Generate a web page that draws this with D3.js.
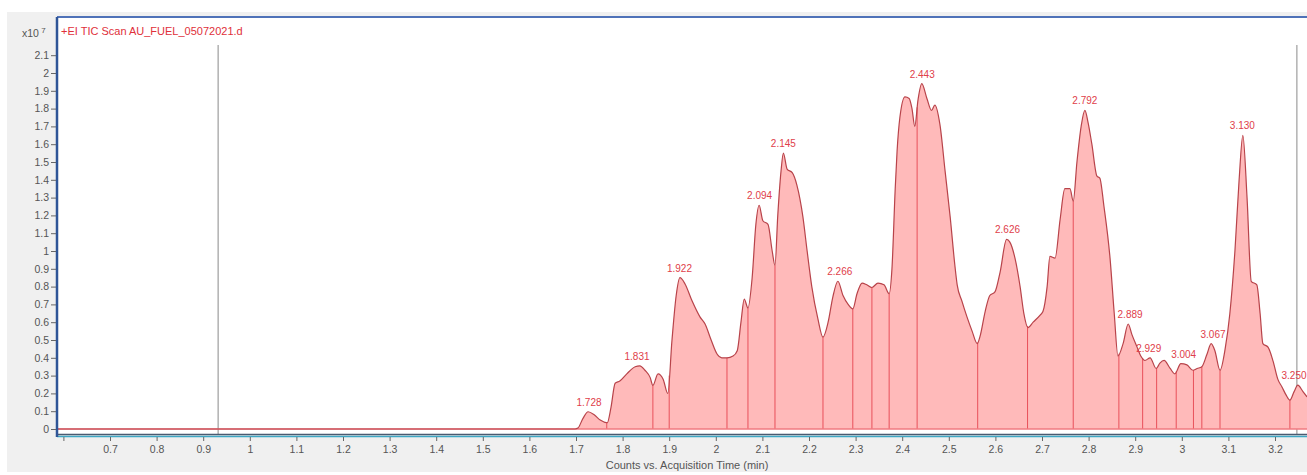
<!DOCTYPE html>
<html lang="en">
<head>
    <meta charset="UTF-8">
    <script src="https://d3js.org/d3.v7.min.js"></script>
    <style>
        body { margin: 0; background: #fff; }
        text { font-family: "Liberation Sans", Arial, sans-serif; }
    </style>
</head>
<body>
    <svg id="chart" width="1307" height="475"></svg>
    <script>
        // retention time (min) and counts (x10^7)
        const times = [0.586, 1.698, 1.704, 1.715, 1.726, 1.739, 1.752, 1.767, 1.775, 1.784, 1.794, 1.809, 1.827, 1.837, 1.848, 1.859, 1.865, 1.876, 1.887, 1.897,
            1.906, 1.915, 1.923, 1.934, 1.949, 1.966, 1.977, 1.990, 2.003, 2.013, 2.024, 2.037, 2.046, 2.054, 2.061, 2.069, 2.078, 2.086, 2.093, 2.101,
            2.112, 2.121, 2.127, 2.133, 2.140, 2.145, 2.153, 2.164, 2.174, 2.187, 2.196, 2.206, 2.219, 2.230, 2.241, 2.251, 2.262, 2.273, 2.284, 2.294,
            2.303, 2.314, 2.324, 2.335, 2.348, 2.361, 2.372, 2.378, 2.385, 2.389, 2.395, 2.406, 2.415, 2.421, 2.427, 2.434, 2.442, 2.453, 2.463, 2.470,
            2.481, 2.492, 2.503, 2.513, 2.518, 2.528, 2.539, 2.550, 2.561, 2.567, 2.578, 2.588, 2.599, 2.610, 2.624, 2.631, 2.642, 2.653, 2.661, 2.670,
            2.681, 2.696, 2.702, 2.711, 2.717, 2.728, 2.739, 2.749, 2.760, 2.767, 2.775, 2.784, 2.792, 2.799, 2.807, 2.818, 2.824, 2.833, 2.846, 2.855,
            2.863, 2.874, 2.885, 2.893, 2.904, 2.912, 2.921, 2.932, 2.945, 2.953, 2.962, 2.975, 2.985, 2.998, 3.011, 3.024, 3.033, 3.043, 3.054, 3.063,
            3.071, 3.082, 3.093, 3.103, 3.114, 3.123, 3.131, 3.140, 3.149, 3.161, 3.168, 3.174, 3.185, 3.196, 3.206, 3.215, 3.224, 3.232, 3.241, 3.249,
            3.260, 3.269];
        const counts = [0, 0, 0.005, 0.06, 0.097, 0.08, 0.05, 0.035, 0.12, 0.257, 0.27, 0.31, 0.35, 0.355, 0.33, 0.29, 0.245, 0.31, 0.28, 0.20,
            0.50, 0.75, 0.85, 0.815, 0.72, 0.63, 0.59, 0.50, 0.42, 0.40, 0.40, 0.41, 0.44, 0.60, 0.73, 0.68, 0.85, 1.15, 1.257, 1.17,
            1.15, 1.00, 0.92, 1.20, 1.45, 1.55, 1.46, 1.44, 1.37, 1.19, 1.00, 0.80, 0.62, 0.516, 0.60, 0.74, 0.83, 0.75, 0.70, 0.675,
            0.76, 0.82, 0.81, 0.795, 0.82, 0.81, 0.76, 0.90, 1.35, 1.56, 1.75, 1.866, 1.857, 1.80, 1.70, 1.85, 1.94, 1.857, 1.79, 1.82,
            1.71, 1.45, 1.19, 0.92, 0.81, 0.72, 0.63, 0.55, 0.48, 0.52, 0.66, 0.75, 0.77, 0.88, 1.065, 1.05, 0.96, 0.80, 0.65, 0.57,
            0.60, 0.64, 0.66, 0.80, 0.97, 0.96, 1.18, 1.35, 1.35, 1.28, 1.50, 1.70, 1.79, 1.72, 1.60, 1.42, 1.41, 1.25, 0.96, 0.65,
            0.41, 0.48, 0.59, 0.53, 0.46, 0.41, 0.385, 0.40, 0.34, 0.37, 0.385, 0.34, 0.31, 0.367, 0.36, 0.33, 0.34, 0.35, 0.42, 0.48,
            0.44, 0.33, 0.45, 0.646, 1.00, 1.40, 1.65, 1.30, 0.83, 0.81, 0.65, 0.48, 0.46, 0.38, 0.28, 0.236, 0.19, 0.162, 0.21, 0.246,
            0.21, 0.18];

        // integration boundaries and labelled peaks
        const boundaries = [1.704, 1.766, 1.865, 1.900, 2.024, 2.069, 2.127, 2.230, 2.294, 2.335, 2.372, 2.432, 2.562, 2.669, 2.767,
            2.865, 2.916, 2.946, 2.988, 3.025, 3.043, 3.082, 3.232];
        const peakLabels = ["1.728", "1.831", "1.922", "2.094", "2.145", "2.266", "2.443", "2.626", "2.792", "2.889", "2.929", "3.004", "3.067", "3.130", "3.250"];
        const markers = [0.932, 3.247];

        const xTicks = [0.6, 0.7, 0.8, 0.9, 1, 1.1, 1.2, 1.3, 1.4, 1.5, 1.6, 1.7, 1.8, 1.9, 2, 2.1, 2.2, 2.3, 2.4, 2.5, 2.6, 2.7, 2.8, 2.9, 3, 3.1, 3.2];
        const yTicks = [0, 0.1, 0.2, 0.3, 0.4, 0.5, 0.6, 0.7, 0.8, 0.9, 1, 1.1, 1.2, 1.3, 1.4, 1.5, 1.6, 1.7, 1.8, 1.9, 2, 2.1];

        const width = 1307, height = 475;
        const plot = { left: 57, top: 17, right: 1307, bottom: 434 };

        const svg = d3.select("#chart");

        svg.append("rect").attr("x", 7).attr("y", 12).attr("width", width - 7).attr("height", 460).attr("fill", "#f0f0f0");
        svg.append("rect").attr("x", plot.left).attr("y", plot.top)
            .attr("width", plot.right - plot.left).attr("height", plot.bottom - plot.top).attr("fill", "#fff");

        const x = d3.scaleLinear().domain([0.7, 3.2]).range([110, 1275]);
        const y = d3.scaleLinear().domain([0, 1]).range([429, 251]);

        svg.append("clipPath").attr("id", "clip").append("rect")
            .attr("x", plot.left).attr("y", plot.top).attr("width", plot.right - plot.left).attr("height", plot.bottom - plot.top);

        const g = svg.append("g").attr("clip-path", "url(#clip)");

        // grey marker lines
        g.selectAll(".marker").data(markers).enter().append("line")
            .attr("x1", d => x(d)).attr("x2", d => x(d))
            .attr("y1", 45).attr("y2", plot.bottom)
            .attr("stroke", "#8a8a8a").attr("stroke-width", 1);

        const data = times.map((t, i) => ({ t, v: counts[i] }));
        const bis = d3.bisector(d => d.t).left;
        function valueAt(t) {
            const i = Math.max(1, Math.min(data.length - 1, bis(data, t)));
            const a = data[i - 1], b = data[i];
            return a.v + (b.v - a.v) * (t - a.t) / (b.t - a.t);
        }

        g.append("path").datum(data)
            .attr("fill", "#ffbaba")
            .attr("d", d3.area().curve(d3.curveMonotoneX).x(d => x(d.t)).y0(y(0)).y1(d => y(d.v)));

        g.selectAll(".bound").data(boundaries).enter().append("line")
            .attr("x1", d => x(d)).attr("x2", d => x(d))
            .attr("y1", y(0)).attr("y2", d => y(valueAt(d)))
            .attr("stroke", "#e8505a").attr("stroke-width", 1);

        g.append("line").attr("x1", plot.left).attr("x2", plot.right)
            .attr("y1", y(0)).attr("y2", y(0)).attr("stroke", "#f07a80").attr("stroke-width", 1.5);

        g.append("path").datum(data)
            .attr("fill", "none").attr("stroke", "#b8434a").attr("stroke-width", 1.2)
            .attr("d", d3.line().curve(d3.curveMonotoneX).x(d => x(d.t)).y(d => y(d.v)));

        g.selectAll(".peak").data(peakLabels).enter().append("text")
            .attr("x", d => Math.min(x(+d), plot.right - 13))
            .attr("y", d => {
                const t = +d;
                const vmax = d3.max(data.filter(p => Math.abs(p.t - t) < 0.009), p => p.v) || valueAt(t);
                return y(Math.max(vmax, valueAt(t))) - 6;
            })
            .attr("text-anchor", "middle")
            .style("font-size", "10px")
            .attr("fill", "#e0404a")
            .text(d => d);

        // frame and axes
        svg.append("line").attr("x1", plot.left).attr("x2", plot.right).attr("y1", plot.top).attr("y2", plot.top)
            .attr("stroke", "#4f72b8").attr("stroke-width", 2);
        svg.append("line").attr("x1", plot.left).attr("x2", plot.right).attr("y1", 434.5).attr("y2", 434.5)
            .attr("stroke", "#4a5a70").attr("stroke-width", 1.5);
        svg.append("line").attr("x1", plot.left).attr("x2", plot.right).attr("y1", 436.5).attr("y2", 436.5)
            .attr("stroke", "#3fa7c4").attr("stroke-width", 1.5);
        svg.append("line").attr("x1", plot.left).attr("x2", plot.left).attr("y1", plot.top).attr("y2", 437)
            .attr("stroke", "#2f5597").attr("stroke-width", 2.5);

        const xAxis = svg.append("g").attr("transform", "translate(0,437)")
            .call(d3.axisBottom(x).tickValues(xTicks).tickSize(4).tickPadding(5)
                .tickFormat(d => d === 0.6 ? "" : d3.format("~g")(d)));
        xAxis.select(".domain").remove();
        xAxis.selectAll("line").attr("stroke", "#666");
        xAxis.selectAll("text").attr("fill", "#555").style("font-size", "10.5px");

        const yAxis = svg.append("g").attr("transform", `translate(${plot.left - 1},0)`)
            .call(d3.axisLeft(y).tickValues(yTicks).tickSize(5).tickPadding(2).tickFormat(d3.format("~g")));
        yAxis.select(".domain").remove();
        yAxis.selectAll("line").attr("stroke", "#666");
        yAxis.selectAll("text").attr("fill", "#555").style("font-size", "10.5px");

        const exp = svg.append("text").attr("x", 22).attr("y", 37).attr("fill", "#555").style("font-size", "10.5px");
        exp.append("tspan").text("x10");
        exp.append("tspan").attr("dy", -4).style("font-size", "8px").text(" 7");

        svg.append("text").attr("x", 61).attr("y", 35).attr("fill", "#e0303a").style("font-size", "11px")
            .text("+EI TIC Scan AU_FUEL_05072021.d");

        svg.append("text").attr("x", 687).attr("y", 469).attr("text-anchor", "middle")
            .attr("fill", "#555").style("font-size", "11px")
            .text("Counts vs. Acquisition Time (min)");
    </script>
</body>
</html>
